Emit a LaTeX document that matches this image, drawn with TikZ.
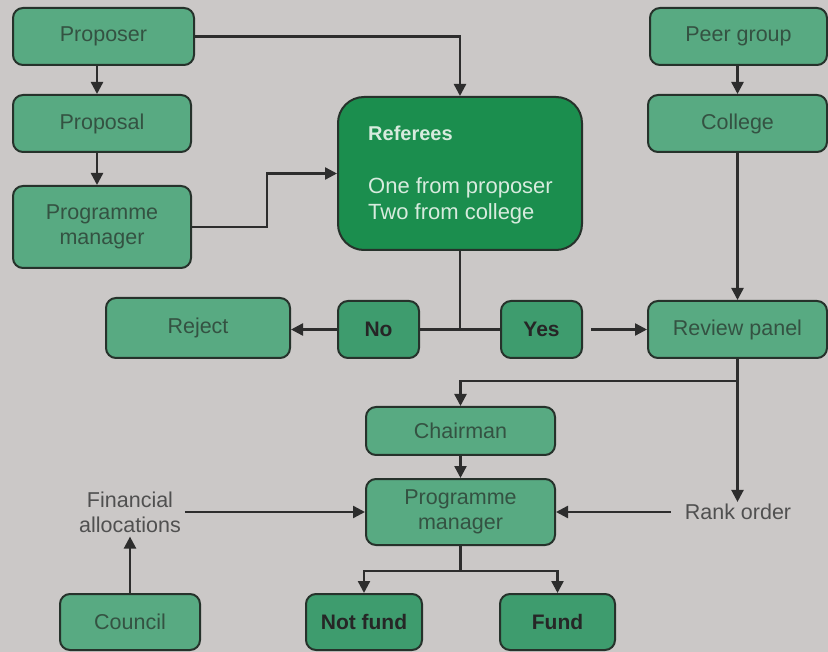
\documentclass[tikz,border=0pt]{standalone}
\usepackage{fontspec}
\setmainfont{Liberation Sans}
\usetikzlibrary{arrows.meta,calc}
\definecolor{bgc}{RGB}{203,200,199}
\definecolor{lgreen}{RGB}{88,170,130}
\definecolor{mgreen}{RGB}{62,156,110}
\definecolor{dgreen}{RGB}{27,142,78}
\definecolor{bordc}{RGB}{38,50,43}
\definecolor{txtc}{RGB}{52,82,66}
\definecolor{greytxt}{RGB}{80,80,80}
\definecolor{linec}{RGB}{45,45,45}
\definecolor{reftxt}{RGB}{215,235,222}
\tikzset{
  base/.style={draw=bordc, line width=2pt, rounded corners=10pt, inner sep=0pt,
    font=\fontsize{21.5}{25}\selectfont, align=center},
  lbox/.style={base, fill=lgreen, text=txtc},
  mbox/.style={base, fill=mgreen, text=black!85, font=\fontsize{21}{25}\selectfont\bfseries},
  dbox/.style={base, fill=dgreen, rounded corners=26pt},
  freetxt/.style={text=greytxt, font=\fontsize{21.5}{25}\selectfont, align=center, inner sep=4pt},
  conn/.style={draw=linec, line width=2.4pt},
  arr/.style={conn, -{Triangle[length=12pt,width=12pt]}},
  sz/.style 2 args={minimum width=#1pt, minimum height=#2pt}
}
\begin{document}
\begin{tikzpicture}[x=1pt,y=-1pt]
\fill[bgc] (0,0) rectangle (828,652);
\useasboundingbox (0,0) rectangle (828,652);

\node[lbox, sz={181}{57}] (prop) at (103.5,36.5) {Proposer};
\node[lbox, sz={178}{57}] (pal) at (102,123.5) {Proposal};
\node[lbox, sz={178}{82}] (pm1) at (102,227) {Programme\\manager};
\node[dbox, sz={244}{153}] (ref) at (460,173.5) {};
\node[anchor=west, text=reftxt, font=\fontsize{20}{26}\selectfont\bfseries, inner sep=0pt] (reft) at (368,133) {Referees};
\node[anchor=north west, text=reftxt, font=\fontsize{22}{26}\selectfont, align=left, inner sep=0pt] (refb) at (368,177) {One from proposer\\Two from college};
\node[lbox, sz={177}{57}] (peer) at (738.5,36.5) {Peer group};
\node[lbox, sz={179}{57}] (col) at (737.5,123.5) {College};
\node[lbox, sz={184}{60}] (rej) at (198,328) {Reject};
\node[mbox, sz={81}{57}] (no) at (378.5,329.5) {No};
\node[mbox, sz={81}{57}] (yes) at (541.5,329.5) {Yes};
\node[lbox, sz={179}{57}] (rp) at (737.5,329.5) {Review panel};
\node[lbox, sz={189}{48}] (ch) at (460.5,431) {Chairman};
\node[lbox, sz={189}{66}] (pm2) at (460.5,512) {Programme\\manager};
\node[freetxt] (fin) at (130,512) {Financial\\allocations};
\node[freetxt, inner sep=2pt] (rank) at (738,512) {Rank order};
\node[lbox, sz={140}{56}] (cou) at (130,622) {Council};
\node[mbox, sz={116}{56}] (nf) at (364,622) {Not fund};
\node[mbox, sz={115}{56}] (fund) at (557.5,622) {Fund};

% connectors
\draw[arr] (prop.east) -| (ref.north);
\draw[arr] (prop.south -| 97,0) -- (pal.north -| 97,0);
\draw[arr] (pal.south -| 97,0) -- (pm1.north -| 97,0);
\draw[arr] (peer.south -| col.south) -- (col.north);
\draw[arr] (pm1.east) -- ++(75,0) |- (ref.west);
\draw[conn] (ref.south) -- (ref.south |- no.east);
\draw[conn] (no.east) -- (yes.west);
\draw[arr] (no.west) -- (no.west -| rej.east);
\draw[arr] ([xshift=8pt]yes.east) -- (rp.west);
\draw[arr] (col.south) -- (rp.north);
\draw[arr] (rp.south) -- ++(0,22) -| (ch.north);
\draw[arr] (rp.south) -- (rp.south |- rank.north);
\draw[arr] ([xshift=-12pt]rank.west) -- (rank.west -| pm2.east);
\draw[arr] (fin.east) -- (pm2.west);
\draw[arr] (cou.north) -- (cou.north |- fin.south);
\draw[arr] (ch.south) -- (pm2.north);
\draw[conn] (pm2.south) -- ++(0,25) coordinate (j);
\draw[arr] ([xshift=1.2pt]j) -| (nf.north);
\draw[arr] ([xshift=-1.2pt]j) -| (fund.north);
\end{tikzpicture}
\end{document}
